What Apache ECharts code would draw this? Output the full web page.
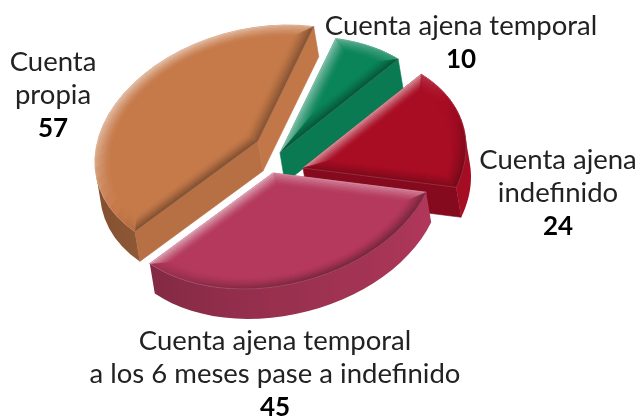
<!DOCTYPE html>
<html>
<head>
<meta charset="utf-8">
<script src="https://cdn.jsdelivr.net/npm/echarts@6/dist/echarts.min.js"></script>
<style>
    html, body { margin: 0; padding: 0; background: #fff; }
    #js-pie { width: 641px; height: 419px; }
</style>
</head>
<body>
<div id="js-pie"></div>
<script>
// clockwise from the top edge of the green slice
const categories = ['Cuenta ajena temporal', 'Cuenta ajena\nindefinido', 'Cuenta ajena temporal\na los 6 meses pase a indefinido', 'Cuenta\npropia'];
const values = [10, 24, 45, 57];

// look of each slice, same order as above
const baseColors = ['#0a8459', '#a80d24', '#b5395d', '#c67a4a'];
const sliceCenters = [[280, 153], [303, 168], [273, 173], [258, 141]];
const labelAnchors = [[461, 10], [558, 144], [275, 325], [53, 46]];
const drawOrder = [0, 1, 3, 2];

const startAngle = 20 * Math.PI / 180;
const depth = [5, 30];
const bevelLevels = 8;
const bevelWidth = 0.09;
const arcSteps = 28;

const total = values.reduce(function (a, b) { return a + b; }, 0);

function toRgb(hex) {
    return [1, 3, 5].map(function (i) { return parseInt(hex.substr(i, 2), 16); });
}
function mix(hex, target, amount) {
    const rgb = toRgb(hex).map(function (c) { return Math.round(c + (target - c) * amount); });
    return 'rgb(' + rgb.join(',') + ')';
}
function darken(hex, ratio) {
    return mix(hex, 0, 1 - ratio);
}

// tilted pie: circle coords to pixels
function project(center, u, v) {
    return [center[0] + 163 * u, center[1] - 114 * v - 21 * u];
}

// outline of the slice shrunk by t, in circle coords
function insetOutline(a0, a1, t) {
    const mid = (a0 + a1) / 2;
    const apexDist = t / Math.sin((a1 - a0) / 2);
    const r = 1 - t;
    const d = Math.asin(t / r);
    const pts = [[apexDist * Math.sin(mid), apexDist * Math.cos(mid)]];
    for (let i = 0; i <= arcSteps; i++) {
        const a = a0 + d + (a1 - a0 - 2 * d) * i / arcSteps;
        pts.push([r * Math.sin(a), r * Math.cos(a)]);
    }
    return pts;
}

function quad(points, color, z2) {
    return {
        type: 'polygon',
        z2: z2,
        shape: {points: points},
        style: {fill: color, stroke: color, lineWidth: 0.6}
    };
}

// outward normal in pixels of the segment a -> b (clockwise outline)
function normalOf(a, b) {
    const dx = b[0] - a[0];
    const dy = b[1] - a[1];
    const len = Math.sqrt(dx * dx + dy * dy) || 1;
    return [dy / len, -dx / len];
}

function faces(n) {
    return n[0] * depth[0] + n[1] * depth[1] > 0;
}

function wallColor(hex, n) {
    return darken(hex, 0.82 + 0.17 * n[0]);
}

function bevelColor(hex, n, level) {
    const fade = Math.pow(1 - level / bevelLevels, 1.2);
    const light = (n[0] * -0.62 + n[1] * -0.78);
    if (light > 0) {
        return mix(hex, 255, 0.5 * light * fade);
    }
    return mix(hex, 0, 0.36 * -light * fade);
}

// the curved wall as one shape, shaded left to right
function arcWall(outer, hex, z) {
    const front = [];
    const stops = [];
    let minX = Infinity;
    let maxX = -Infinity;
    for (let i = 1; i < outer.length - 1; i++) {
        const n = normalOf(outer[i], outer[i + 1]);
        if (faces(n)) {
            if (!front.length) {
                front.push(outer[i]);
            }
            front.push(outer[i + 1]);
            stops.push({x: outer[i][0], color: wallColor(hex, n)});
        }
    }
    if (!front.length) {
        return null;
    }
    front.forEach(function (p) {
        minX = Math.min(minX, p[0]);
        maxX = Math.max(maxX, p[0] + depth[0]);
    });
    const back = front.map(function (p) {
        return [p[0] + depth[0], p[1] + depth[1]];
    }).reverse();
    return {
        type: 'polygon',
        z2: z,
        shape: {points: front.concat(back)},
        style: {
            fill: {
                type: 'linear',
                global: true,
                x: minX,
                y: 0,
                x2: maxX,
                y2: 0,
                colorStops: stops.map(function (s) {
                    return {offset: (s.x - minX) / (maxX - minX), color: s.color};
                }).sort(function (a, b) { return a.offset - b.offset; })
            }
        }
    };
}

function renderSlice(params) {
    const idx = params.dataIndex;
    const base = baseColors[idx];
    const center = sliceCenters[idx];
    const z = drawOrder[idx] * 10;
    let before = 0;
    for (let i = 0; i < idx; i++) {
        before += values[i];
    }
    const a0 = startAngle + before / total * Math.PI * 2;
    const a1 = startAngle + (before + values[idx]) / total * Math.PI * 2;
    const children = [];

    const toPx = function (list) {
        return list.map(function (p) { return project(center, p[0], p[1]); });
    };
    const outer = toPx(insetOutline(a0, a1, 0));

    // straight walls, only those that face the viewer
    [[0, 1], [outer.length - 1, 0]].forEach(function (pair) {
        const p = outer[pair[0]];
        const q = outer[pair[1]];
        const n = normalOf(p, q);
        if (faces(n)) {
            children.push(quad([
                p, q,
                [q[0] + depth[0], q[1] + depth[1]],
                [p[0] + depth[0], p[1] + depth[1]]
            ], wallColor(base, n), z));
        }
    });
    const curved = arcWall(outer, base, z);
    if (curved) {
        children.push(curved);
    }

    // top face
    children.push(quad(outer, base, z + 1));

    // bevel strips, fading towards the middle
    for (let k = 0; k < bevelLevels; k++) {
        const a = toPx(insetOutline(a0, a1, bevelWidth * k / bevelLevels));
        const b = toPx(insetOutline(a0, a1, bevelWidth * (k + 1) / bevelLevels));
        for (let i = 0; i < a.length; i++) {
            const j = (i + 1) % a.length;
            children.push(quad([a[i], a[j], b[j], b[i]], bevelColor(base, normalOf(a[i], a[j]), k), z + 2));
        }
    }

    // thin light rim on the top face
    children.push({
        type: 'polygon',
        z2: z + 3,
        shape: {points: outer},
        style: {fill: 'none', stroke: 'rgba(255,255,255,0.18)', lineWidth: 0.7}
    });

    children.push({
        type: 'text',
        z2: 100,
        x: labelAnchors[idx][0],
        y: labelAnchors[idx][1],
        style: {
            text: categories[idx].split('\n').map(function (line) {
                return '{n|' + line + '}';
            }).join('\n') + '\n{v|' + values[idx] + '}',
            align: 'center',
            verticalAlign: 'top',
            rich: {
                n: {fontFamily: 'Lato', fontSize: 27.5, lineHeight: 33, fill: '#222222'},
                v: {fontFamily: 'Lato', fontSize: 26, fontWeight: 'bold', lineHeight: 33, fill: '#000'}
            }
        }
    });

    return {type: 'group', children: children};
}

const pieChart = echarts.init(document.getElementById('js-pie'), null, {renderer: 'canvas'});
pieChart.setOption({
    animation: false,
    backgroundColor: '#ffffff',
    series: [{
        type: 'custom',
        coordinateSystem: 'none',
        silent: true,
        clip: false,
        data: values,
        renderItem: renderSlice
    }]
});
</script>
</body>
</html>
